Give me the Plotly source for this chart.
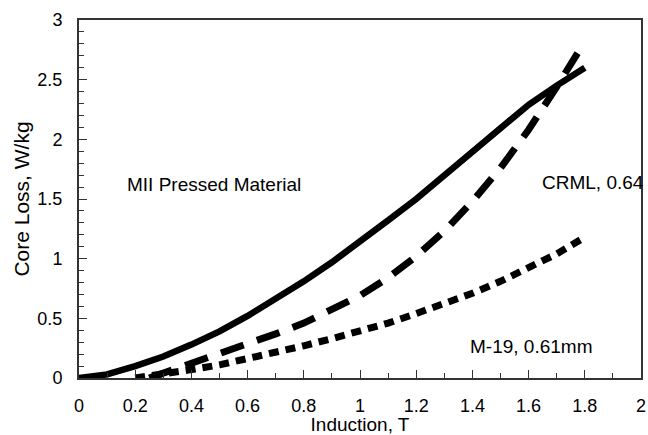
import plotly.graph_objects as go

# Data
x_mii = [0, 0.1, 0.2, 0.3, 0.4, 0.5, 0.6, 0.7, 0.8, 0.9, 1.0, 1.1, 1.2, 1.3, 1.4, 1.5, 1.6, 1.7, 1.8]
y_mii = [0, 0.03, 0.1, 0.18, 0.28, 0.39, 0.52, 0.66, 0.81, 0.97, 1.14, 1.32, 1.5, 1.7, 1.9, 2.1, 2.29, 2.45, 2.6]

x_crml = [0.25, 0.3, 0.4, 0.5, 0.6, 0.7, 0.8, 0.9, 1.0, 1.1, 1.2, 1.3, 1.4, 1.5, 1.6, 1.7, 1.8]
y_crml = [0.0, 0.04, 0.12, 0.2, 0.28, 0.37, 0.46, 0.57, 0.69, 0.84, 1.02, 1.23, 1.48, 1.76, 2.08, 2.44, 2.82]

x_m19 = [0.2, 0.3, 0.4, 0.5, 0.6, 0.7, 0.8, 0.9, 1.0, 1.1, 1.2, 1.3, 1.4, 1.5, 1.6, 1.7, 1.8]
y_m19 = [0.0, 0.03, 0.07, 0.11, 0.16, 0.21, 0.27, 0.33, 0.39, 0.46, 0.54, 0.62, 0.71, 0.81, 0.92, 1.04, 1.18]

labels = ["MII Pressed Material", "CRML, 0.64", "M-19, 0.61mm"]
label_x = [0.48, 1.83, 1.61]
label_y = [1.62, 1.64, 0.26]

x_ticks = [0, 0.2, 0.4, 0.6, 0.8, 1, 1.2, 1.4, 1.6, 1.8, 2]
x_ticktext = ["0", "0.2", "0.4", "0.6", "0.8", "1", "1.2", "1.4", "1.6", "1.8", "2"]
y_ticks = [0, 0.5, 1, 1.5, 2, 2.5, 3]
y_ticktext = ["0", "0.5", "1", "1.5", "2", "2.5", "3"]

FONT = "Liberation Sans, Arial, sans-serif"

fig = go.Figure()
fig.add_trace(go.Scatter(x=x_mii, y=y_mii, mode="lines", line=dict(color="black", width=6.5),
                         showlegend=False))
fig.add_trace(go.Scatter(x=x_crml, y=y_crml, mode="lines",
                         line=dict(color="black", width=7, dash="24px,14px"), showlegend=False))
fig.add_trace(go.Scatter(x=x_m19, y=y_m19, mode="lines",
                         line=dict(color="black", width=7, dash="10px,7px"), showlegend=False))

for t, ax_, ay_ in zip(labels, label_x, label_y):
    fig.add_annotation(x=ax_, y=ay_, text=t, showarrow=False, xanchor="center", yanchor="middle",
                       font=dict(family=FONT, size=19, color="black"))

axis_common = dict(showgrid=False, zeroline=False, showline=True, linecolor="#333",
                   linewidth=2, mirror=True, ticks="inside", ticklen=8, tickwidth=1,
                   tickcolor="#333", tickfont=dict(family=FONT, size=18, color="black"),
                   automargin=False)

fig.update_xaxes(range=[0, 2], tickvals=x_ticks, ticktext=x_ticktext,
                 ticklabelstandoff=10,
                 minor=dict(dtick=0.1, ticks="inside", ticklen=5, tickcolor="#333"),
                 title=dict(text="Induction, T", font=dict(family=FONT, size=19, color="black"),
                            standoff=2),
                 **axis_common)
fig.update_yaxes(range=[0, 3], tickvals=y_ticks, ticktext=y_ticktext,
                 ticklabelstandoff=11,
                 minor=dict(dtick=0.1, ticks="inside", ticklen=5, tickcolor="#333"),
                 title=dict(text="Core Loss, W/kg", font=dict(family=FONT, size=21, color="black"),
                            standoff=2),
                 **axis_common)

fig.update_layout(width=648, height=435, margin=dict(l=79, r=7, t=20, b=57),
                  plot_bgcolor="white", paper_bgcolor="white")

fig.write_html("out.html")
